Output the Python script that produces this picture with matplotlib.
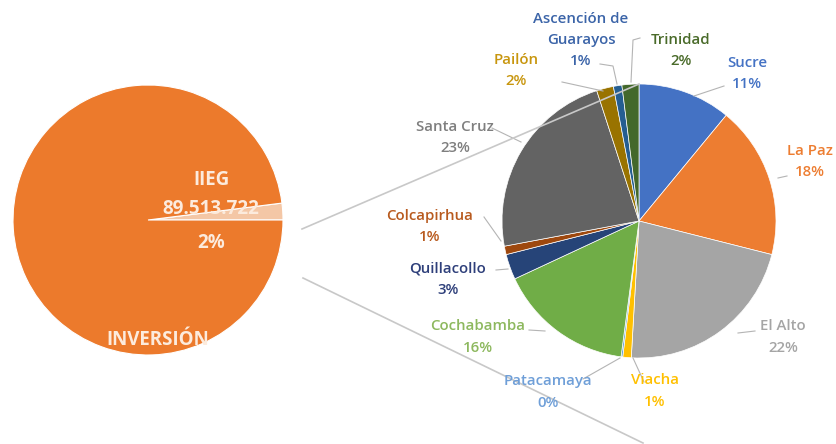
import matplotlib
matplotlib.use("Agg")
import matplotlib.pyplot as plt

# ---------------- data ----------------
main_labels = ["IIEG", "INVERSIÓN"]
main_shares = [2, 98]
iieg_amount = "89.513.722"

cities = ["Sucre", "La Paz", "El Alto", "Viacha", "Patacamaya", "Cochabamba",
          "Quillacollo", "Colcapirhua", "Santa Cruz", "Pailón",
          "Ascención de\nGuarayos", "Trinidad"]
city_shares = [11, 18, 22, 1, 0.2, 16, 3, 1, 23, 2, 1, 2]

# ---------------- style / layout ----------------
W, H = 837, 444
city_colors = ["#4472C4", "#ED7D31", "#A5A5A5", "#FFC000", "#5B9BD5", "#70AD47",
               "#264478", "#9E480E", "#636363", "#997300", "#255E91", "#43682B"]
label_colors = ["#4472C4", "#ED7D31", "#A5A5A5", "#FFC000", "#6F9FD8", "#8DB85E",
                "#2E3F7A", "#B85A1E", "#7F7F7F", "#C8960E", "#3B64A8", "#4A6B2A"]
FONT = "Open Sans"

def Y(y):
    return H - y

fig = plt.figure(figsize=(W / 100, H / 100), dpi=100)
ax = fig.add_axes([0, 0, 1, 1])

# left (main) pie
c1 = (148, Y(220)); r1 = 135
ax.pie(main_shares, colors=["#F4C7A6", "#EC7A2C"], startangle=0, counterclock=True,
       center=c1, radius=r1, wedgeprops=dict(edgecolor="white", linewidth=0.8))

# right (secondary) pie
c2 = (639, Y(221)); r2 = 137
ax.pie(city_shares, colors=city_colors, startangle=90, counterclock=False,
       center=c2, radius=r2, wedgeprops=dict(edgecolor="white", linewidth=0.5))

# connector lines between pies
ax.plot([302, c2[0]], [Y(229), c2[1] + r2], color="#C8C8C8", lw=1.2, zorder=5)
ax.plot([303, 643], [Y(278), Y(443)], color="#C8C8C8", lw=1.2, zorder=5)

# main pie labels
txt_kw = dict(ha="center", va="center", color="#FCEBDD", fontweight="bold",
              family=FONT, zorder=6)
ax.text(212, Y(180), main_labels[0], fontsize=13.5, **txt_kw)
ax.text(211, Y(209), iieg_amount, fontsize=13.5, **txt_kw)
ax.text(211, Y(243), f"{main_shares[0]}%", fontsize=13.5, **txt_kw)
ax.text(158, Y(340), main_labels[1], fontsize=13.5, **txt_kw)

# secondary pie labels: (label centre x, y-centre of first line), leader line points
label_pos = [(747, 61), (810, 149), (783, 325), (655, 379), (548, 380), (478, 325),
             (448, 267), (430, 214), (455, 125), (516, 58), (581, 17), (681, 38)]
leaders = [
    [(724, 86), (694, 96)],
    [(787, 176), (778, 178)],
    [(755, 331), (738, 333)],
    [(644, 382), (633, 358)],
    [(583, 379), (620, 358)],
    [(529, 330), (545, 331)],
    [(496, 270), (508, 269)],
    [(484, 217), (501, 241)],
    [(492, 128), (521, 142)],
    [(562, 82), (603, 91)],
    [(600, 64), (613, 66), (617, 84)],
    [(640, 38), (633, 40), (631, 82)],
]
FS = 10.8
top_offset = 5.5
for name, share, col, (x, y), pts in zip(cities, city_shares, label_colors, label_pos, leaders):
    txt = f"{name}\n{round(share)}%"
    ax.text(x, Y(y - top_offset), txt, ha="center", va="top", color=col, fontsize=FS,
            fontweight="semibold", family=FONT, linespacing=1.65, zorder=6)
    xs = [p[0] for p in pts]; ys = [Y(p[1]) for p in pts]
    ax.plot(xs, ys, color="#B4B4B4", lw=0.8, zorder=4)

ax.set_xlim(0, W)
ax.set_ylim(0, H)
ax.set_aspect("equal")
ax.axis("off")
fig.savefig("out.png", dpi=100, facecolor="white")
